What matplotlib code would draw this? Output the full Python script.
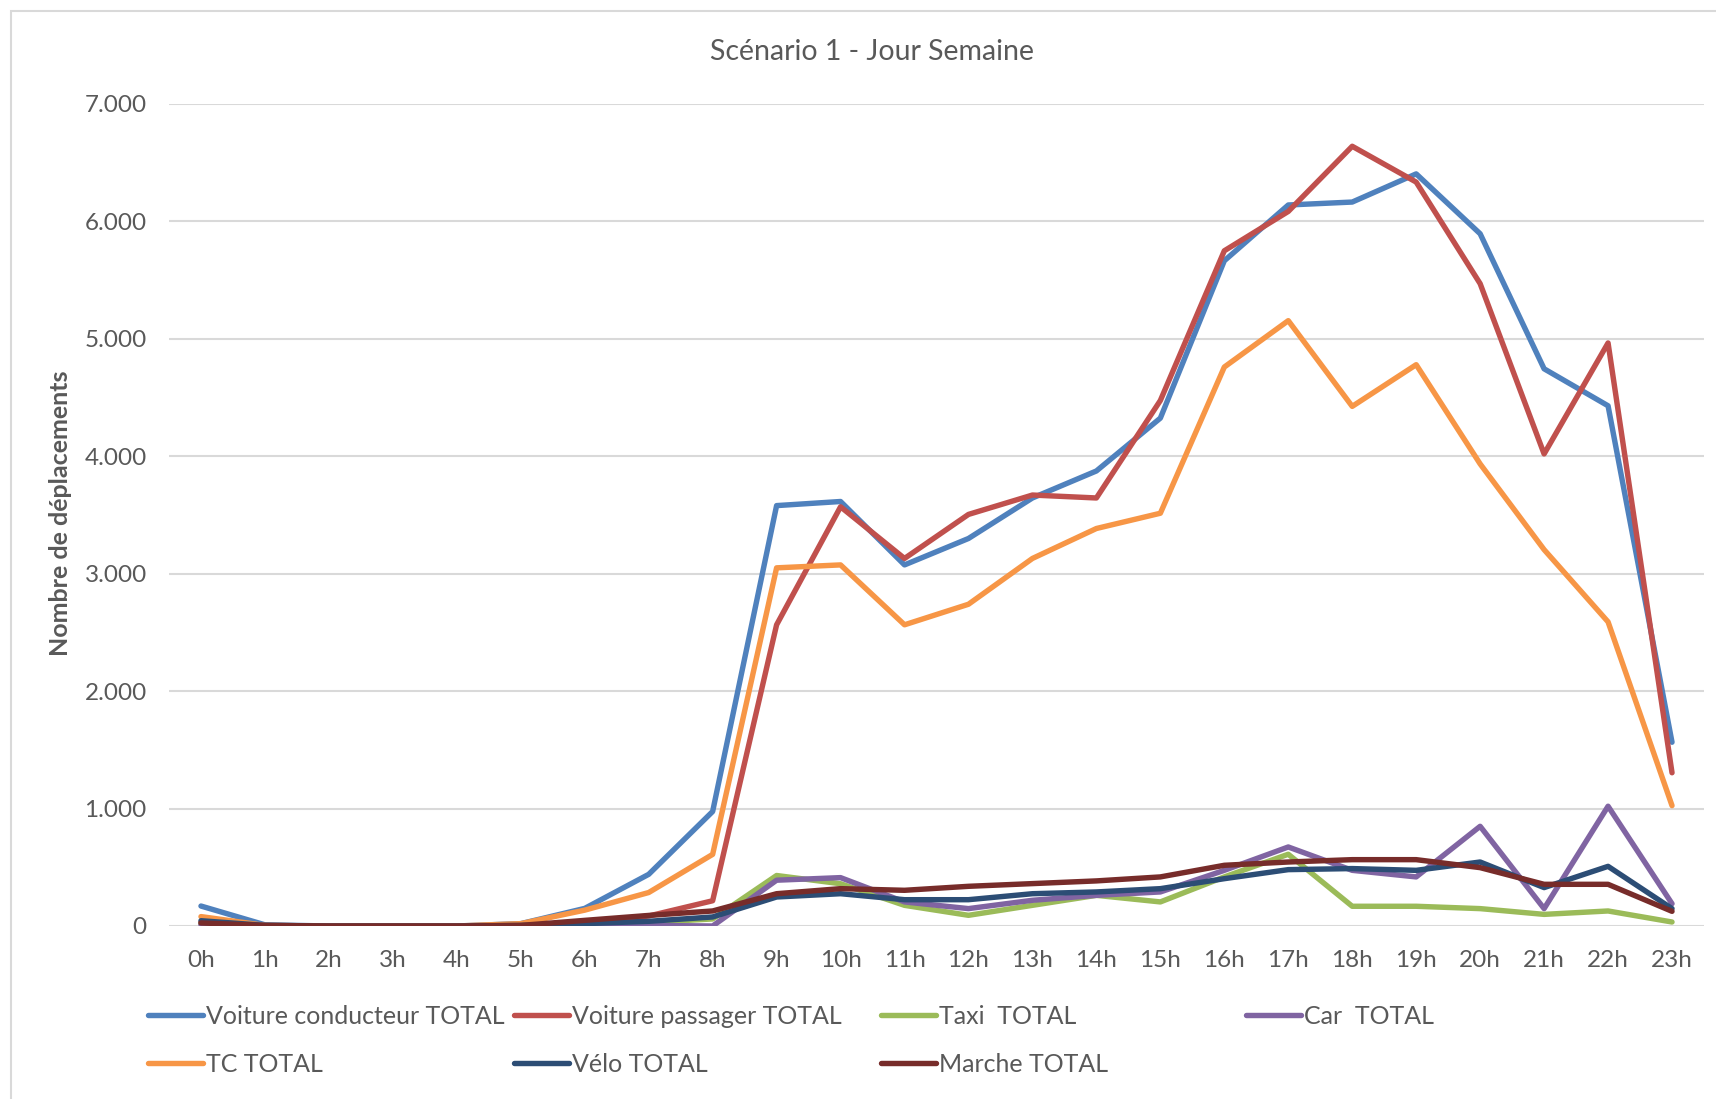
import matplotlib
matplotlib.use("Agg")
import matplotlib.pyplot as plt
from matplotlib.patches import Rectangle
from matplotlib.ticker import FuncFormatter

plt.rcParams['font.family'] = ['Lato', 'DejaVu Sans']

hours = [f"{h}h" for h in range(24)]

voiture_conducteur = [170, 10, 0, 0, 0, 20, 150, 440, 975, 3580, 3615, 3075, 3300, 3645,
                      3875, 4325, 5665, 6140, 6165, 6405, 5895, 4745, 4430, 1565]
voiture_passager = [30, 0, 0, 0, 0, 0, 30, 85, 215, 2565, 3570, 3130, 3505, 3670,
                    3645, 4475, 5750, 6085, 6640, 6335, 5470, 4020, 4965, 1305]
taxi = [20, 0, 0, 0, 0, 0, 10, 30, 60, 430, 360, 176, 91, 176,
        261, 205, 418, 611, 168, 168, 148, 99, 128, 34]
car = [10, 0, 0, 0, 0, 0, 5, 5, 0, 390, 412, 205, 148, 219,
       261, 290, 474, 673, 474, 418, 849, 148, 1020, 190]
tc = [80, 5, 0, 0, 0, 20, 135, 285, 610, 3050, 3075, 2565, 2740, 3130,
      3385, 3515, 4760, 5155, 4425, 4780, 3935, 3205, 2590, 1025]
velo = [45, 5, 0, 0, 0, 5, 20, 40, 77, 247, 275, 224, 224, 275,
        290, 318, 403, 480, 489, 474, 545, 327, 508, 148]
marche = [26, 5, 0, 0, 0, 5, 48, 90, 128, 275, 318, 304, 338, 361,
          384, 418, 517, 545, 565, 565, 497, 355, 355, 125]

series = [
    ("Voiture conducteur TOTAL", voiture_conducteur, "#4F81BD"),
    ("Voiture passager TOTAL", voiture_passager, "#C0504D"),
    ("Taxi  TOTAL", taxi, "#9BBB59"),
    ("Car  TOTAL", car, "#8064A2"),
    ("TC TOTAL", tc, "#F79646"),
    ("Vélo TOTAL", velo, "#2C4D75"),
    ("Marche TOTAL", marche, "#772C2A"),
]

W, H = 1716, 1099
fig = plt.figure(figsize=(W / 100, H / 100), dpi=100)
fig.patch.set_facecolor("white")

# chart border
fig.patches.append(Rectangle((11 / W, -0.05), 1.2, 1 - 11 / H + 0.05,
                             transform=fig.transFigure, fill=False,
                             edgecolor="#D9D9D9", linewidth=1.5))

ax = fig.add_axes([169 / W, (H - 926) / H, 1535 / W, 822 / H])
x = list(range(len(hours)))
handles = {}
for name, vals, col in series:
    ln, = ax.plot(x, vals, color=col, lw=3.9, solid_capstyle="round",
                  solid_joinstyle="round", label=name)
    handles[name] = ln

ax.set_xlim(-0.5, 23.5)
ax.set_ylim(0, 7000)
ax.set_yticks(range(0, 7001, 1000))
ax.yaxis.set_major_formatter(FuncFormatter(lambda v, p: f"{int(v):,}".replace(",", ".")))
ax.set_xticks(x)
ax.set_xticklabels(hours)
ax.grid(axis="y", color="#D9D9D9", lw=1.5)
ax.set_axisbelow(True)
for s in ax.spines.values():
    s.set_visible(False)
ax.tick_params(axis="both", length=0, labelsize=17.5, colors="#595959")
ax.tick_params(axis="y", pad=16)
ax.tick_params(axis="x", pad=17)

fig.text(61 / W, 1 - 513 / H, "Nombre de déplacements", rotation=90,
         ha="center", va="center", fontsize=18, fontweight="bold", color="#595959")
fig.text(872 / W, 1 - 52 / H, "Scénario 1 - Jour Semaine", ha="center", va="center",
         fontsize=20.5, color="#595959")

columns = [
    ["Voiture conducteur TOTAL", "TC TOTAL"],
    ["Voiture passager TOTAL", "Vélo TOTAL"],
    ["Taxi  TOTAL", "Marche TOTAL"],
    ["Car  TOTAL"],
]
col_x = [148, 514, 881, 1246]
for cx, names in zip(col_x, columns):
    fig.legend([handles[n] for n in names], names, loc="upper left",
               bbox_to_anchor=(cx / W, 1 - 1005 / H), frameon=False,
               fontsize=18, handlelength=2.2, handletextpad=0.12,
               labelspacing=1.0, borderaxespad=0, borderpad=0,
               labelcolor="#595959")

fig.savefig("out.png", dpi=100)
